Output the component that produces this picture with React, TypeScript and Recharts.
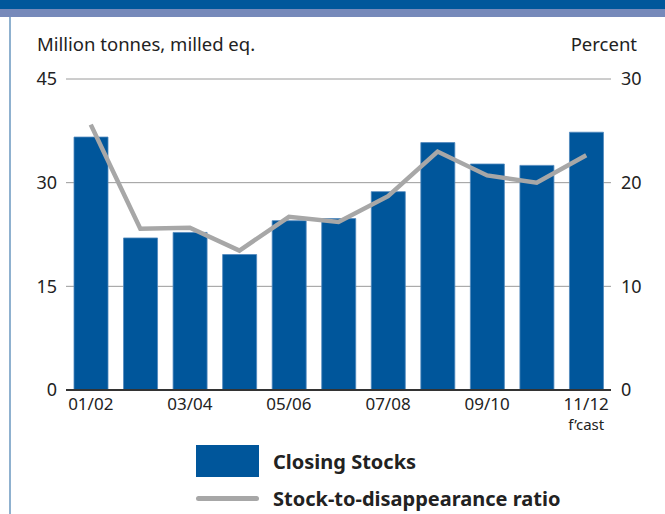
import { ComposedChart, Bar, Line, XAxis, YAxis, CartesianGrid, Legend } from "recharts"

const seasons = ["01/02", "02/03", "03/04", "04/05", "05/06", "06/07", "07/08", "08/09", "09/10", "10/11", "11/12"]
const closingStocks = [36.6, 22.0, 22.8, 19.6, 24.5, 24.8, 28.7, 35.8, 32.7, 32.5, 37.3]
const stockRatio = [25.6, 15.55, 15.65, 13.45, 16.7, 16.2, 18.7, 23.0, 20.7, 20.0, 22.65]
const leftTicks = [0, 15, 30, 45]
const rightTicks = [0, 10, 20, 30]
const forecastSeason = "11/12"

const BLUE = "#00569b"
const GREY = "#a7a7a7"
const TEXT = "#222"
const FONT = "'Noto Sans', sans-serif"

const data = seasons.map((s, i) => ({ season: s, stocks: closingStocks[i], ratio: stockRatio[i] }))

const SeasonTick = ({ x, y, payload }) => {
  return (
    <g>
      <text x={x} y={y + 12} textAnchor="middle" fontSize={17} fill={TEXT} fontFamily={FONT}>
        {payload.value}
      </text>
      {payload.value === forecastSeason && (
        <text x={x} y={y + 32} textAnchor="middle" fontSize={15} fill={TEXT} fontFamily={FONT}>
          f’cast
        </text>
      )}
    </g>
  )
}

const renderLegend = () => {
  return (
    <div style={{ fontFamily: FONT, fontWeight: 700, fontSize: 20, color: TEXT }}>
      <div style={{ display: "flex", alignItems: "center", height: 32 }}>
        <div style={{ width: 63, height: 32, background: BLUE, marginRight: 14 }} />
        <span>Closing Stocks</span>
      </div>
      <div style={{ display: "flex", alignItems: "center", height: 32, marginTop: 5 }}>
        <div style={{ width: 63, height: 5, background: GREY, borderRadius: 3, marginRight: 14 }} />
        <span>Stock-to-disappearance ratio</span>
      </div>
    </div>
  )
}

const App = () => {

  return (

    <div style={{ position: "absolute", left: 0, top: 0, width: 665, height: 514, background: "#fff", overflow: "hidden", fontFamily: FONT }}>

      <div style={{ position: "absolute", left: 0, top: 0, width: 665, height: 9, background: "#00579b" }} />
      <div style={{ position: "absolute", left: 0, top: 9, width: 665, height: 8, background: "#7689ba" }} />
      <div style={{ position: "absolute", left: 9, top: 17, width: 2, height: 497, background: "#8fb1cf" }} />

      <div style={{ position: "absolute", left: 37, top: 31, fontSize: 18.5, color: TEXT }}>Million tonnes, milled eq.</div>
      <div style={{ position: "absolute", right: 28, top: 31, fontSize: 18.5, color: TEXT }}>Percent</div>

      <div style={{ position: "absolute", left: 0, top: 0 }}>

        <ComposedChart width={665} height={514} data={data} margin={{ top: 79, right: 0, bottom: 94, left: 0 }} barSize={34}>

          <CartesianGrid yAxisId="left" vertical={false} stroke="#9a9a9a" strokeWidth={1} />

          <XAxis dataKey="season" interval={1} height={30} tickLine={false} axisLine={{ stroke: "#333", strokeWidth: 2 }} tick={<SeasonTick />} />

          <YAxis yAxisId="left" orientation="left" width={66} domain={[0, 45]} ticks={leftTicks} tickLine={false} axisLine={false} tickSize={6} tickMargin={3} tick={{ fontSize: 18, fill: TEXT, fontFamily: FONT }} />

          <YAxis yAxisId="right" orientation="right" width={54} domain={[0, 30]} ticks={rightTicks} tickLine={false} axisLine={false} tickSize={6} tickMargin={4} tick={{ fontSize: 18, fill: TEXT, fontFamily: FONT }} />

          <Bar yAxisId="left" dataKey="stocks" name="Closing Stocks" fill={BLUE} stroke="#4f88bd" strokeWidth={0.8} isAnimationActive={false} />

          <Line yAxisId="right" dataKey="ratio" name="Stock-to-disappearance ratio" type="linear" stroke={GREY} strokeWidth={4.5} dot={false} activeDot={false} isAnimationActive={false} />

          <Legend layout="vertical" align="center" verticalAlign="middle" content={renderLegend} wrapperStyle={{ position: "absolute", left: 196, top: 445, width: 440 }} />

        </ComposedChart>

      </div>

    </div>

  )

}

export default App
